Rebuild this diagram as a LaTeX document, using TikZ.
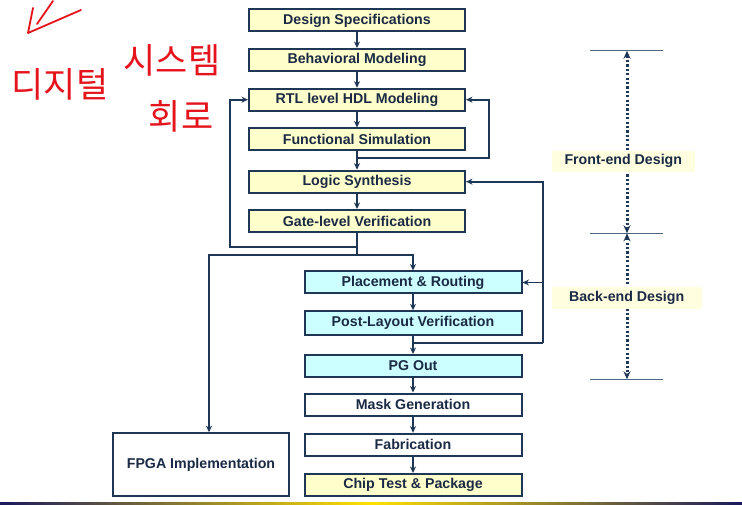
\documentclass[tikz,border=0pt]{standalone}
\usepackage{fontspec}
\setmainfont{Liberation Sans}
\newfontfamily\korhand{Noto Sans CJK KR}
\usetikzlibrary{arrows.meta}
\definecolor{navyline}{HTML}{1F3756}
\definecolor{navytext}{HTML}{1A2A44}
\definecolor{boxyellow}{HTML}{FFFFCC}
\definecolor{boxcyan}{HTML}{CCFFFF}
\definecolor{bandyellow}{HTML}{FFFFE0}
\definecolor{tickgray}{HTML}{4E6680}
\definecolor{penred}{HTML}{E5131B}
\definecolor{barnavy}{HTML}{1A1A5E}
\definecolor{barmag}{HTML}{D0207A}
\definecolor{baryellow}{HTML}{FFE000}
\begin{document}
\begin{tikzpicture}[x=1pt, y=-1pt,
  box/.style={draw=navyline, line width=2pt, inner sep=0pt, minimum width=216pt, minimum height=22pt,
    text=navytext, font=\bfseries\fontsize{14.2}{16}\selectfont},
  front/.style={box, fill=boxyellow},
  back/.style={box, fill=boxcyan, minimum width=217pt},
  fab/.style={box, fill=white, minimum width=217pt},
  wire/.style={draw=navyline, line width=1.8pt},
  arr/.style={wire, -{Stealth[length=6.5pt,width=6pt]}},
  band/.style={fill=bandyellow, inner sep=0pt, minimum height=21pt, text=navytext,
    font=\bfseries\fontsize{14.2}{16}\selectfont},
  tick/.style={draw=tickgray, line width=1.4pt},
  span/.style={draw=navyline, line width=3pt, dash pattern=on 2.2pt off 2.2pt,
    {Stealth[length=8pt,width=7pt]}-{Stealth[length=8pt,width=7pt]}},
  pen/.style={draw=penred, line width=1.8pt, line cap=round, line join=round},
  hand/.style={text=penred, font=\korhand\fontsize{35}{38}\selectfont, inner sep=0pt}]
\fill[white] (0,0) rectangle (742,505);
\useasboundingbox (0,0) rectangle (742,505);

\node[front] (spec) at (357,20.5) {Design Specifications};
\node[front] (behav) at (357,60) {Behavioral Modeling};
\node[front] (rtl) at (357,99.7) {RTL level HDL Modeling};
\node[front] (func) at (357,139.5) {Functional Simulation};
\node[front] (logic) at (357,181.7) {Logic Synthesis};
\node[front] (gate) at (357,221) {Gate-level Verification};
\node[back] (place) at (413,282.5) {Placement \& Routing};
\node[back, minimum height=24pt] (post) at (413,323.3) {Post-Layout Verification};
\node[back] (pgout) at (413,366) {PG Out};
\node[fab] (mask) at (413,404.5) {Mask Generation};
\node[fab] (fabr) at (413,444.7) {Fabrication};
\node[front, minimum width=217pt] (chip) at (413,485) {Chip Test \& Package};
\node[fab, minimum width=176pt, minimum height=63pt] (fpga) at (201,464.7) {FPGA Implementation};

\coordinate (loopR) at (489,158);
\coordinate (loopL) at (230,247);
\coordinate (split) at (357,255);
\coordinate (loopB) at (543,343);

\draw[arr] (spec) -- (behav);
\draw[arr] (behav) -- (rtl);
\draw[arr] (rtl) -- (func);
\draw[arr] (func) -- (logic);
\draw[arr] (func.south |- loopR) -- (loopR) |- (rtl.east);
\draw[arr] (logic) -- (gate);
\draw[wire] (gate.south) -- (split);
\draw[arr] (gate.south |- loopL) -- (loopL) |- (rtl.west);
\draw[arr] (split) -| (place.north);
\draw[arr] (split) -| ([xshift=8pt]fpga.north);
\draw[arr] (place) -- (post);
\draw[arr] (post) -- (pgout);
\draw[wire] (post.south |- loopB) -- (loopB);
\draw[arr] (loopB) |- (logic.east);
\draw[arr] (loopB |- place.east) -- (place.east);
\draw[arr] (pgout) -- (mask);
\draw[arr] (mask) -- (fabr);
\draw[arr] (fabr) -- (chip);

\coordinate (feTop) at (627,50.7);
\coordinate (feMid) at (627,233.3);
\coordinate (feBot) at (627,379.3);
\draw[tick] ([xshift=-37pt]feTop) -- ([xshift=36pt]feTop);
\draw[tick] ([xshift=-37pt]feMid) -- ([xshift=36pt]feMid);
\draw[tick] ([xshift=-37pt]feBot) -- ([xshift=36pt]feBot);
\draw[span] (feTop) -- (feMid);
\draw[span] (feMid) -- (feBot);
\node[band, minimum width=143pt] (frontlbl) at (623.3,161.2) {Front-end Design};
\node[band, minimum width=150pt] (backlbl) at (626.7,298) {Back-end Design};

\shade[left color=barnavy, middle color=barmag, right color=baryellow] (0,502) rectangle (371,505);
\shade[left color=baryellow, middle color=barmag, right color=barnavy] (371,502) rectangle (742,505);

\draw[pen] (33,8) -- (28,33) -- (81,10);
\draw[pen] (53,1) -- (37,24);
\node[hand] (hw1) at (60,84) {디지털};
\node[hand] (hw2) at (172,60) {시스템};
\node[hand] (hw3) at (181,116) {회로};
\end{tikzpicture}
\end{document}
